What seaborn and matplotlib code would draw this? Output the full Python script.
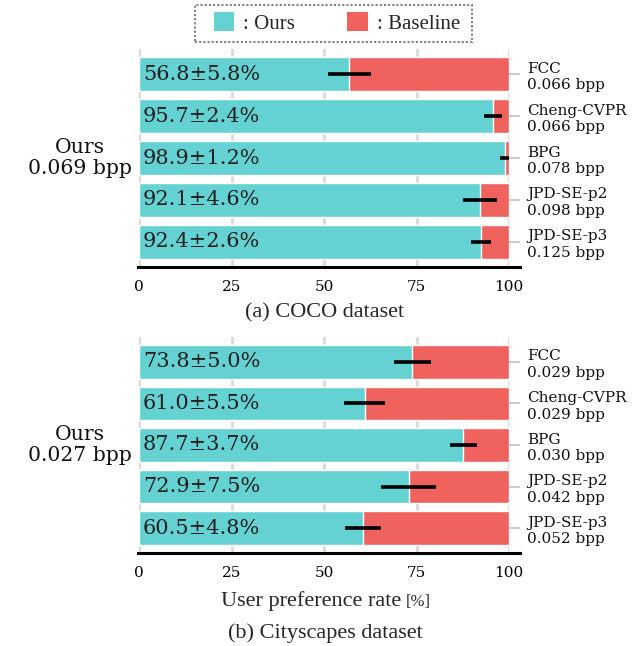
import matplotlib
matplotlib.use("Agg")
import matplotlib.pyplot as plt
from matplotlib.patches import Patch, Rectangle
import seaborn as sns
import pandas as pd

# Methods compared against ours
methods = ["FCC", "Cheng-CVPR", "BPG", "JPD-SE-p2", "JPD-SE-p3"]

# COCO: preference rate for ours (%), its spread, and baseline bitrates
coco_rate = [56.8, 95.7, 98.9, 92.1, 92.4]
coco_err = [5.8, 2.4, 1.2, 4.6, 2.6]
coco_bpp = ["0.066", "0.066", "0.078", "0.098", "0.125"]
coco_ours_bpp = "0.069"

# Cityscapes
city_rate = [73.8, 61.0, 87.7, 72.9, 60.5]
city_err = [5.0, 5.5, 3.7, 7.5, 4.8]
city_bpp = ["0.029", "0.029", "0.030", "0.042", "0.052"]
city_ours_bpp = "0.027"

xticks = [0, 25, 50, 75, 100]

TEAL = "#64d2d2"
RED = "#f0625d"
GRID = "#d9d9d9"
SERIF = "DejaVu Serif"
TIMES = "Liberation Serif"

sns.set_theme(style="whitegrid")
plt.rcParams["font.family"] = [SERIF]

fig = plt.figure(figsize=(6.32, 6.46), dpi=100)
W, H = 632, 646


def fx(px):
    return px / W


def fy(py):
    return 1 - py / H


def px_axes(left, top, right, bottom):
    return fig.add_axes([fx(left), fy(bottom), (right - left) / W, (bottom - top) / H])


def panel(ax, rates, errs, bpps, ours_bpp, caption_y, caption):
    df = pd.DataFrame({"method": methods, "rate": rates, "total": [100] * len(rates)})
    # full-width baseline bar, then our share drawn over it
    sns.barplot(data=df, x="total", y="method", orient="h", color=RED,
                saturation=1, width=0.8, ax=ax, zorder=2)
    sns.barplot(data=df, x="rate", y="method", orient="h", color=TEAL,
                saturation=1, width=0.8, ax=ax, zorder=3)
    ys = list(range(len(methods)))
    ax.errorbar(rates, ys, xerr=errs, fmt="none", ecolor="black",
                elinewidth=2.6, capsize=0, zorder=4)
    for y, r, e in zip(ys, rates, errs):
        ax.text(1.1, y, f"{r:.1f}\u00b1{e:.1f}%", va="center", ha="left",
                fontsize=15, color="#1f1f1f", family=SERIF, zorder=5)

    ax.set_xlim(0, 100)
    ax.set_ylim(len(methods) - 0.4, -0.6)
    ax.set_xticks(xticks)
    ax.set_xticklabels([str(t) for t in xticks], family=SERIF, fontsize=11)
    ax.set_xlabel("")
    ax.set_ylabel("")
    ax.grid(axis="x", color=GRID, linewidth=2.0, zorder=0)
    ax.grid(axis="y", visible=False)
    ax.set_axisbelow(True)
    for s in ["left", "right", "top"]:
        ax.spines[s].set_visible(False)
    ax.spines["bottom"].set_visible(True)
    ax.spines["bottom"].set_color("black")
    ax.spines["bottom"].set_linewidth(2.2)
    ax.spines["bottom"].set_bounds(-0.4, 103)
    ax.tick_params(axis="x", length=0, pad=9.5, colors="black")

    ax.yaxis.tick_right()
    ax.set_yticks(ys)
    ax.set_yticklabels([f"{m}\n{b} bpp" for m, b in zip(methods, bpps)],
                       family=SERIF, fontsize=11, linespacing=1.25, ha="left")
    ax.tick_params(axis="y", which="both", right=True, left=False, length=8,
                   width=1.5, color="#cccccc", pad=5, labelcolor="#111111")

    pos = ax.get_position()
    fig.text(fx(80), (pos.y0 + pos.y1) / 2, f"Ours\n{ours_bpp} bpp",
             ha="center", va="center", fontsize=14.7, family=SERIF,
             linespacing=1.12, color="#111111")
    fig.text(fx(325), fy(caption_y), caption, ha="center", va="center",
             fontsize=16, family=TIMES)


ax1 = px_axes(139, 49, 509, 267)
panel(ax1, coco_rate, coco_err, coco_bpp, coco_ours_bpp, 313, "(a) COCO dataset")

ax2 = px_axes(139, 337, 509, 553)
panel(ax2, city_rate, city_err, city_bpp, city_ours_bpp, 633, "(b) Cityscapes dataset")

fig.text(fx(401), fy(601), "User preference rate", ha="right", va="center",
         fontsize=16, family=TIMES)
fig.text(fx(406), fy(602), "[%]", ha="left", va="center",
         fontsize=12, family=TIMES)

# Legend: swatches and labels, inside a dotted frame
handles = [Patch(facecolor=TEAL, edgecolor="none", label=": Ours"),
           Patch(facecolor=RED, edgecolor="none", label=": Baseline")]
leg = fig.legend(handles=handles, loc="center", bbox_to_anchor=(fx(337), fy(23)),
                 ncol=2, frameon=False, prop={"family": TIMES, "size": 15},
                 handlelength=0.97, handleheight=1.0, handletextpad=0.45,
                 columnspacing=2.5, borderpad=0.0, borderaxespad=0)
fig.patches.append(Rectangle((fx(195), fy(42)), fx(472) - fx(195), fy(5) - fy(42),
                             transform=fig.transFigure, fill=False,
                             edgecolor="#808080", linestyle=(0, (1, 1)),
                             linewidth=1.5))

fig.savefig("out.png", dpi=100)
